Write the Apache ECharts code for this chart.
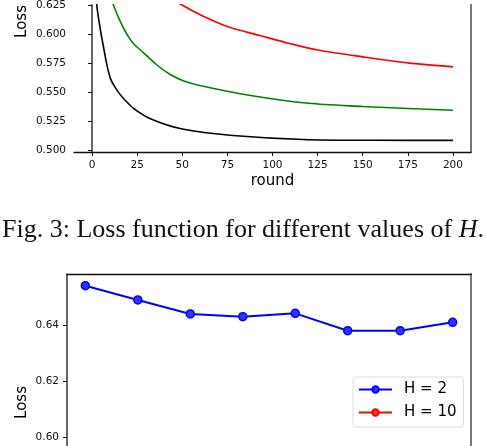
<!DOCTYPE html>
<html>
<head>
<meta charset="utf-8">
<script src="https://cdn.jsdelivr.net/npm/echarts@6/dist/echarts.min.js"></script>
<style>
  html, body { margin: 0; padding: 0; background: #fff; }
  #main { width: 486px; height: 446px; }
</style>
</head>
<body>
<div id="main"></div>
<script>
// top chart: loss per round (only the lower part is visible)
var roundsBlack = [0, 1, 2.6, 4.4, 6.5, 8.5, 10.5, 12.7, 15.5, 18.2, 23, 32, 50, 78, 120, 160, 200];
var lossBlack = [0.693, 0.658, 0.6256, 0.6062, 0.588, 0.572, 0.561, 0.5548, 0.5485, 0.5437, 0.5365, 0.5278, 0.5187, 0.5131, 0.5095, 0.5090, 0.5089];
var roundsGreen = [0, 3, 6, 9, 11.8, 15.5, 19.2, 22.9, 28.4, 35.8, 43.1, 50.5, 59.7, 87, 120, 150, 175, 200];
var lossGreen = [0.693, 0.675, 0.657, 0.640, 0.6256, 0.6117, 0.6006, 0.5923, 0.5845, 0.5740, 0.5658, 0.5603, 0.5562, 0.5478, 0.5408, 0.5381, 0.5364, 0.5348];
var roundsRed = [0, 12, 24, 36, 49.6, 61.6, 76.3, 92.9, 109.5, 125, 150, 175, 200];
var lossRed = [0.693, 0.670, 0.653, 0.6386, 0.6256, 0.6158, 0.6062, 0.5992, 0.5923, 0.5867, 0.5808, 0.5756, 0.5722];
var roundTicks = [0, 25, 50, 75, 100, 125, 150, 175, 200];
var lossTicksTop = [0.500, 0.525, 0.550, 0.575, 0.600, 0.625];

// bottom chart: H = 2 series (H = 10 lies below the visible part)
var steps = [1, 2, 3, 4, 5, 6, 7, 8];
var lossH2 = [0.6541, 0.6490, 0.6440, 0.6430, 0.6442, 0.6380, 0.6380, 0.6410];
var lossTicksBottom = [0.60, 0.62, 0.64];

function pairs(xs, ys) {
    var res = [];
    for (var i = 0; i < xs.length; i++) {
        res.push([xs[i], ys[i]]);
    }
    return res;
}

var myChart = echarts.init(document.getElementById('main'), null, { renderer: 'canvas' });
var font = 'DejaVu Sans';

var option = {
    backgroundColor: '#fff',
    animation: false,
    textStyle: { fontFamily: font },
    grid: [
        { left: 74, top: 0, width: 397, height: 152 },
        { left: 67, top: 274, width: 404, height: 172 }
    ],
    xAxis: [
        {
            gridIndex: 0, type: 'value', min: -10, max: 210,
            name: 'round', nameLocation: 'middle', nameGap: 22,
            nameTextStyle: { fontSize: 15, color: '#000', fontFamily: font },
            axisLine: { lineStyle: { color: '#111', width: 1.3 } },
            axisTick: { length: 4, lineStyle: { color: '#111' }, customValues: roundTicks },
            axisLabel: { fontSize: 10.5, color: '#111', margin: 8, customValues: roundTicks },
            splitLine: { show: false }
        },
        {
            gridIndex: 1, type: 'value', min: 0.65, max: 8.35,
            axisLine: { show: false },
            axisTick: { show: false },
            axisLabel: { show: false },
            splitLine: { show: false }
        },
        {
            gridIndex: 1, type: 'value', position: 'top', min: 0.65, max: 8.35,
            axisLine: { lineStyle: { color: '#111', width: 1.3 } },
            axisTick: { show: false },
            axisLabel: { show: false },
            splitLine: { show: false }
        }
    ],
    yAxis: [
        {
            gridIndex: 0, type: 'value', min: 0.4989, max: 0.6256,
            axisLine: { show: true, lineStyle: { color: '#333', width: 1.5 } },
            axisTick: { show: true, length: 4, lineStyle: { color: '#111' }, customValues: lossTicksTop },
            axisLabel: {
                fontSize: 10.5, color: '#111', margin: 8, customValues: lossTicksTop,
                formatter: function (v) { return v.toFixed(3); }
            },
            splitLine: { show: false }
        },
        {
            gridIndex: 0, type: 'value', position: 'right', min: 0.4989, max: 0.6256,
            axisLine: { show: true, lineStyle: { color: '#777', width: 2 } },
            axisTick: { show: false },
            axisLabel: { show: false },
            splitLine: { show: false }
        },
        {
            gridIndex: 1, type: 'value', min: 0.5967, max: 0.6583,
            axisLine: { show: true, lineStyle: { color: '#333', width: 1.5 } },
            axisTick: { show: true, length: 4, lineStyle: { color: '#111' }, customValues: lossTicksBottom },
            axisLabel: {
                fontSize: 10.5, color: '#111', margin: 8, customValues: lossTicksBottom,
                formatter: function (v) { return v.toFixed(2); }
            },
            splitLine: { show: false }
        },
        {
            gridIndex: 1, type: 'value', position: 'right', min: 0.5967, max: 0.6583,
            axisLine: { show: true, lineStyle: { color: '#777', width: 2 } },
            axisTick: { show: false },
            axisLabel: { show: false },
            splitLine: { show: false }
        }
    ],
    legend: {
        data: ['H = 2', 'H = 10'],
        orient: 'vertical',
        left: 353,
        top: 377,
        padding: [5, 7, 7, 5],
        itemGap: 8,
        itemWidth: 33,
        itemHeight: 8,
        borderColor: '#ddd',
        borderWidth: 1,
        borderRadius: 3,
        backgroundColor: '#fff',
        textStyle: { fontSize: 15, color: '#000', lineHeight: 15, padding: [0, 0, 0, 7], fontFamily: font }
    },
    graphic: [
        {
            type: 'text', left: 15, top: 5, rotation: Math.PI / 2,
            style: { text: 'Loss', fontSize: 15, fill: '#000', fontFamily: font }
        },
        {
            type: 'text', left: 15, top: 386, rotation: Math.PI / 2,
            style: { text: 'Loss', fontSize: 15, fill: '#000', fontFamily: font }
        },
        {
            type: 'text', left: 'center', top: 217,
            style: {
                text: '{n|Fig. 3: Loss function for different values of }{i|H}{n|.}',
                rich: {
                    n: { fontFamily: 'Liberation Serif', fontSize: 26, fill: '#111' },
                    i: { fontFamily: 'Liberation Serif', fontSize: 26, fontStyle: 'italic', fill: '#111' }
                }
            }
        }
    ],
    series: [
        {
            type: 'line', xAxisIndex: 0, yAxisIndex: 0, data: pairs(roundsRed, lossRed),
            smooth: 0.3, showSymbol: false,
            lineStyle: { color: '#ff0000', width: 1.6 }, itemStyle: { color: '#ff0000' }
        },
        {
            type: 'line', xAxisIndex: 0, yAxisIndex: 0, data: pairs(roundsGreen, lossGreen),
            smooth: 0.3, showSymbol: false,
            lineStyle: { color: '#008000', width: 1.6 }, itemStyle: { color: '#008000' }
        },
        {
            type: 'line', xAxisIndex: 0, yAxisIndex: 0, data: pairs(roundsBlack, lossBlack),
            smooth: 0.3, showSymbol: false,
            lineStyle: { color: '#000', width: 1.6 }, itemStyle: { color: '#000' }
        },
        {
            name: 'H = 2', type: 'line', xAxisIndex: 1, yAxisIndex: 2, data: pairs(steps, lossH2),
            symbol: 'circle', symbolSize: 8,
            lineStyle: { color: '#0000ff', width: 2 },
            itemStyle: { color: '#3333ff', borderColor: '#0000ff', borderWidth: 1.5 }
        },
        {
            name: 'H = 10', type: 'line', xAxisIndex: 1, yAxisIndex: 2, data: [],
            symbol: 'circle', symbolSize: 8,
            lineStyle: { color: '#ff0000', width: 2 },
            itemStyle: { color: '#ff3333', borderColor: '#ff0000', borderWidth: 1.5 }
        }
    ]
};

myChart.setOption(option);
</script>
</body>
</html>
